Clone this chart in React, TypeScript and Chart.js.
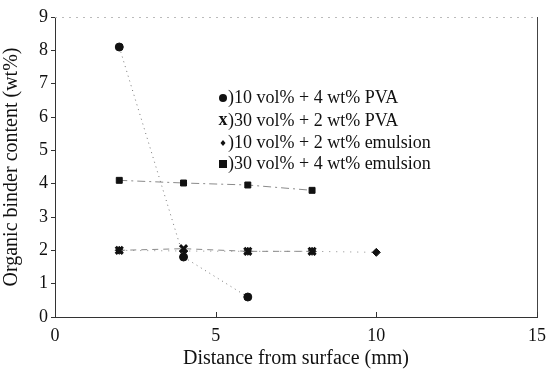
import React, { useEffect, useRef } from "react";
import { Chart, registerables } from "chart.js";

Chart.register(...registerables);

const seriesLabels = [
  "10 vol% + 4 wt% PVA",
  "30 vol% + 2 wt% PVA",
  "10 vol% + 2 wt% emulsion",
  "30 vol% + 4 wt% emulsion",
];
const pva10x = [2, 4, 6];
const pva10y = [8.1, 1.8, 0.6];
const pva30x = [2, 4, 6, 8];
const pva30y = [2.0, 2.05, 1.97, 1.97];
const emu10x = [2, 4, 6, 8, 10];
const emu10y = [2.0, 1.98, 1.97, 1.97, 1.94];
const emu30x = [2, 4, 6, 8];
const emu30y = [4.1, 4.02, 3.96, 3.8];
const xTicks = [0, 5, 10, 15];
const yTicks = [0, 1, 2, 3, 4, 5, 6, 7, 8, 9];

const FONT = "'Liberation Serif', 'Times New Roman', serif";

function pts(xs: number[], ys: number[]) {
  return xs.map((x, i) => ({ x, y: ys[i] }));
}

function drawMarker(ctx: CanvasRenderingContext2D, kind: number, x: number, y: number) {
  ctx.save();
  ctx.fillStyle = "#111";
  ctx.strokeStyle = "#111";
  if (kind === 0) {
    ctx.beginPath();
    ctx.arc(x, y, 4, 0, Math.PI * 2);
    ctx.fill();
  } else if (kind === 1) {
    ctx.font = `bold 18px ${FONT}`;
    ctx.textAlign = "center";
    ctx.textBaseline = "middle";
    ctx.fillText("x", x, y - 1);
  } else if (kind === 2) {
    ctx.beginPath();
    ctx.moveTo(x, y - 3);
    ctx.lineTo(x + 2.5, y);
    ctx.lineTo(x, y + 3);
    ctx.lineTo(x - 2.5, y);
    ctx.closePath();
    ctx.fill();
  } else {
    ctx.fillRect(x - 4, y - 4, 8, 8);
  }
  ctx.restore();
}

const decor = {
  id: "decor",
  afterDraw(chart: any) {
    const { ctx, chartArea } = chart;
    const { left, right, top, bottom } = chartArea;
    ctx.save();
    ctx.strokeStyle = "#444";
    ctx.lineWidth = 1;
    ctx.beginPath();
    ctx.moveTo(right + 0.5, top);
    ctx.lineTo(right + 0.5, bottom);
    ctx.stroke();
    ctx.strokeStyle = "#bbb";
    ctx.setLineDash([2, 5]);
    ctx.beginPath();
    ctx.moveTo(left, top + 0.5);
    ctx.lineTo(right, top + 0.5);
    ctx.stroke();
    ctx.setLineDash([]);
    const xs = chart.scales.x;
    ctx.strokeStyle = "#333";
    xTicks.forEach((t) => {
      const px = Math.round(xs.getPixelForValue(t)) + 0.5;
      ctx.beginPath();
      ctx.moveTo(px, bottom);
      ctx.lineTo(px, bottom - 5);
      ctx.stroke();
    });
    const lx = left + 168;
    const rows = [98, 121, 143, 164];
    ctx.textBaseline = "middle";
    seriesLabels.forEach((lab, i) => {
      const y = rows[i];
      drawMarker(ctx, i, lx, y);
      ctx.fillStyle = "#111";
      ctx.font = `18px ${FONT}`;
      ctx.textAlign = "left";
      ctx.fillText(")" + lab, lx + 5, y);
    });
    ctx.restore();
  },
};

export default function App() {
  const ref = useRef<HTMLCanvasElement | null>(null);
  useEffect(() => {
    document.body.style.margin = "0";
    const c = ref.current;
    if (!c) return;
    const line = "#8a8a8a";
    const chart = new Chart(c, {
      type: "scatter",
      data: {
        datasets: [
          {
            label: seriesLabels[0],
            data: pts(pva10x, pva10y),
            showLine: true,
            borderColor: "#777",
            borderWidth: 1,
            borderDash: [1, 4],
            pointStyle: "circle",
            pointRadius: 4,
            backgroundColor: "#111",
            pointBorderColor: "#111",
          },
          {
            label: seriesLabels[1],
            data: pts(pva30x, pva30y),
            showLine: true,
            borderColor: line,
            borderWidth: 1,
            borderDash: [6, 5],
            pointStyle: "crossRot",
            pointRadius: 5,
            pointBorderWidth: 3,
            backgroundColor: "#111",
            pointBorderColor: "#111",
          },
          {
            label: seriesLabels[2],
            data: pts(emu10x, emu10y),
            showLine: true,
            borderColor: line,
            borderWidth: 1,
            borderDash: [1, 6],
            pointStyle: "rectRot",
            pointRadius: 4,
            backgroundColor: "#111",
            pointBorderColor: "#111",
          },
          {
            label: seriesLabels[3],
            data: pts(emu30x, emu30y),
            showLine: true,
            borderColor: line,
            borderWidth: 1,
            borderDash: [8, 4, 2, 4],
            pointStyle: "rect",
            pointRadius: 4.2,
            backgroundColor: "#111",
            pointBorderColor: "#111",
          },
        ],
      },
      options: {
        animation: false,
        responsive: false,
        layout: { padding: { left: 0, right: 0, top: 17, bottom: 0 } },
        plugins: { legend: { display: false }, tooltip: { enabled: false } },
        scales: {
          x: {
            type: "linear",
            min: 0,
            max: 15,
            afterBuildTicks: (s: any) => {
              s.ticks = xTicks.map((v) => ({ value: v }));
            },
            afterFit: (s: any) => {
              s.height = 54;
            },
            ticks: {
              color: "#111",
              font: { family: FONT, size: 18 },
              padding: 8,
              maxRotation: 0,
            },
            grid: { display: true, drawOnChartArea: false, drawTicks: false },
            border: { display: true, color: "#333", width: 1 },
            title: {
              display: true,
              text: "Distance from surface (mm)",
              color: "#111",
              font: { family: FONT, size: 20 },
              padding: { top: 0, bottom: 0 },
            },
          },
          y: {
            type: "linear",
            min: 0,
            max: 9,
            afterBuildTicks: (s: any) => {
              s.ticks = yTicks.map((v) => ({ value: v }));
            },
            afterFit: (s: any) => {
              s.width = 55;
            },
            ticks: {
              color: "#111",
              font: { family: FONT, size: 18 },
              padding: 3,
            },
            grid: {
              display: true,
              drawOnChartArea: false,
              drawTicks: true,
              tickLength: 4,
              color: "#333",
            },
            border: { display: true, color: "#333", width: 1 },
            title: {
              display: true,
              text: "Organic binder content (wt%)",
              color: "#111",
              font: { family: FONT, size: 20 },
              padding: { top: 0, bottom: 4 },
            },
          },
        },
      },
      plugins: [decor],
    });
    return () => chart.destroy();
  }, []);
  return (
    <div style={{ position: "relative", width: 554, height: 371, background: "#fff" }}>
      <canvas ref={ref} width={554} height={371} style={{ display: "block" }} />
    </div>
  );
}
